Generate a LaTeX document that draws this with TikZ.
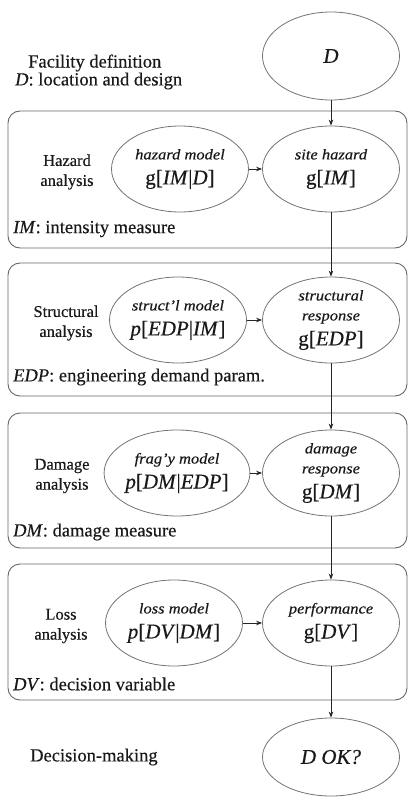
\documentclass[tikz,border=0pt]{standalone}
\usepackage{fontspec}
\setmainfont{Liberation Serif}[FakeBold=0.4]
\usepackage{graphicx}
\usetikzlibrary{shapes.geometric,arrows.meta}
\newcommand\fs[2]{\fontsize{#1}{#2}\selectfont}
\newcommand\sml[1]{\scalebox{1.1}[1]{\fs{15}{20}\itshape #1}}
\newcommand\bgt[1]{{\fs{21}{25}#1}}
\begin{document}
\begin{tikzpicture}[x=1pt,y=-1pt,
  ell/.style={ellipse, draw=black!55, line width=0.8pt, minimum width=137pt, minimum height=86pt, inner sep=0pt, align=center, font=\fs{15}{20}, text=black!90},
  panel/.style={draw=black!60, line width=0.9pt, rounded corners=12pt, minimum width=399pt, inner sep=0pt},
  lab/.style={align=center, font=\fs{16.5}{20}, text=black!90},
  note/.style={anchor=west, font=\fs{18.5}{22}, inner sep=0pt, text=black!90},
  arr/.style={-{Stealth[length=6pt,width=4.5pt]}, draw=black!85, line width=0.8pt}]
\useasboundingbox (0,0) rectangle (409,797);

% panels
\node[panel, minimum height=137pt] (b1) at (207.5,179.5) {};
\node[panel, minimum height=133pt] (b2) at (207.5,329.5) {};
\node[panel, minimum height=135pt] (b3) at (207.5,480.5) {};
\node[panel, minimum height=136pt] (b4) at (207.5,632) {};

% ellipses
\node[ell, minimum height=88pt] (D) at (331,56) {\bgt{\textit{D}}};
\node[ell] (hm) at (180,169) {\sml{hazard model}\\[5pt]\bgt{g[\textit{IM}|\textit{D}]}};
\node[ell] (sh) at (331,169) {\sml{site hazard}\\[5pt]\bgt{g[\textit{IM}]}};
\node[ell] (sm) at (178,320) {\sml{struct’l model}\\[5pt]\bgt{\textit{p}[\textit{EDP}|\textit{IM}]}};
\node[ell] (sr) at (331,320) {\sml{structural}\\\sml{response}\\[5pt]\bgt{g[\textit{EDP}]}};
\node[ell] (fm) at (177,473) {\sml{frag’y model}\\[5pt]\bgt{\textit{p}[\textit{DM}|\textit{EDP}]}};
\node[ell] (dr) at (331,473) {\sml{damage}\\\sml{response}\\[5pt]\bgt{g[\textit{DM}]}};
\node[ell] (lm) at (174,623) {\sml{loss model}\\[5pt]\bgt{\textit{p}[\textit{DV}|\textit{DM}]}};
\node[ell] (pf) at (331,623) {\sml{performance}\\[5pt]\bgt{g[\textit{DV}]}};
\node[ell, minimum height=78pt] (ok) at (331,757) {\bgt{\textit{D OK?}}};

% side labels
\node[note] (fd) at (28,63) {Facility definition};
\node[note] (fdn) at (15,81) {\textit{D}: location and design};
\node[lab] (ha) at (67,172) {Hazard\\analysis};
\node[note] (imn) at (13,229) {\textit{IM}: intensity measure};
\node[lab] (sa) at (66,323) {Structural\\analysis};
\node[note] (edpn) at (13,377) {\textit{EDP}: engineering demand param.};
\node[lab] (da) at (62,476) {Damage\\analysis};
\node[note] (dmn) at (13,532) {\textit{DM}: damage measure};
\node[lab] (la) at (61,626) {Loss\\analysis};
\node[note] (dvn) at (13,684) {\textit{DV}: decision variable};
\node[note] (dmk) at (30,757) {Decision-making};

% connectors
\draw[arr] (D) -- (sh);
\draw[arr] (hm) -- (sh);
\draw[arr] (sh) -- (sr);
\draw[arr] (sm) -- (sr);
\draw[arr] (sr) -- (dr);
\draw[arr] (fm) -- (dr);
\draw[arr] (dr) -- (pf);
\draw[arr] (lm) -- (pf);
\draw[arr] (pf) -- (ok);
\end{tikzpicture}
\end{document}
